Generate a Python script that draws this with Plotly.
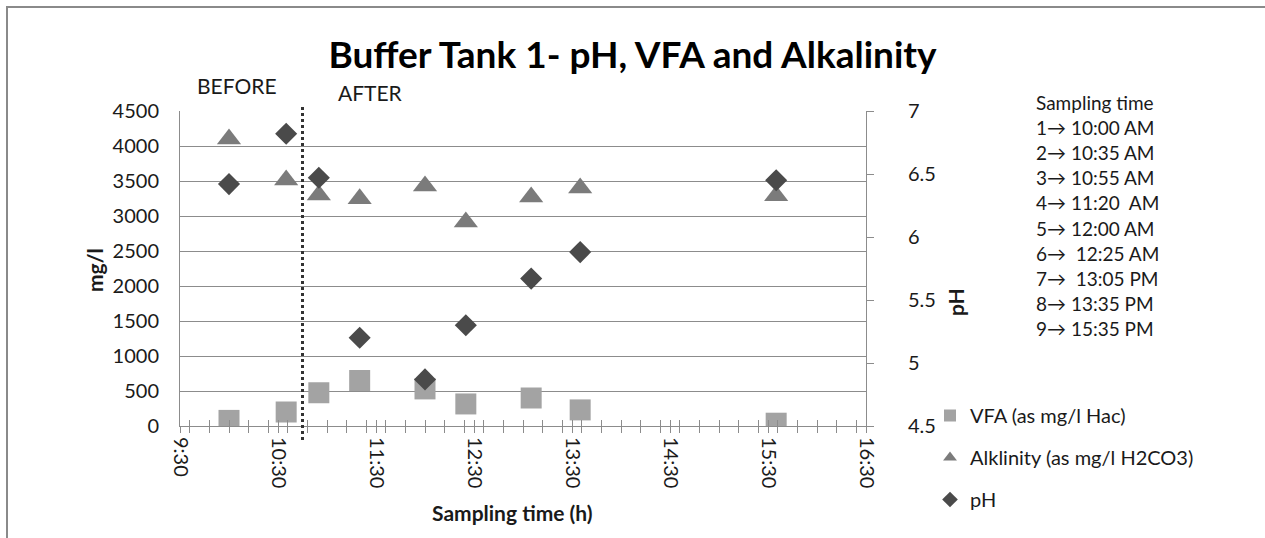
import plotly.graph_objects as go

# ---- data ----
sample_times = ["10:00", "10:35", "10:55", "11:20", "12:00", "12:25", "13:05", "13:35", "15:35"]
vfa = [80, 200, 475, 650, 530, 315, 400, 230, 40]
alkalinity = [4100, 3515, 3300, 3245, 3430, 2915, 3270, 3400, 3290]
ph = [6.42, 6.82, 6.47, 5.20, 4.87, 5.30, 5.67, 5.88, 6.45]

x_tick_labels = ["9:30", "10:30", "11:30", "12:30", "13:30", "14:30", "15:30", "16:30"]
sampling_lines = ["Sampling time", "1\u2192 10:00 AM", "2\u2192 10:35 AM", "3\u2192 10:55 AM",
                  "4\u2192 11:20\u00a0 AM", "5\u2192 12:00 AM", "6\u2192\u00a0 12:25 AM",
                  "7\u2192\u00a0 13:05 PM", "8\u2192 13:35 PM", "9\u2192 15:35 PM"]
divider_time = "10:45"

DAY = "2000-01-01 "
xs = [DAY + t for t in sample_times]
tickvals = [DAY + t for t in x_tick_labels]

FONT = "Lato, 'Open Sans', sans-serif"
GRID = "#8c8c8c"
TICK_FS = 20

fig = go.Figure()
fig.add_trace(go.Scatter(x=xs, y=vfa, mode="markers", name="VFA (as mg/l Hac)",
                         legendgroup="a",
                         marker=dict(symbol="square", size=21, color="#a3a3a3",
                                     line=dict(width=0))))
fig.add_trace(go.Scatter(x=xs, y=alkalinity, mode="markers", name="Alklinity (as mg/l H2CO3)",
                         legendgroup="b",
                         marker=dict(symbol="triangle-up", size=21, color="#7b7b7b",
                                     line=dict(width=0))))
fig.add_trace(go.Scatter(x=xs, y=ph, mode="markers", name="pH", yaxis="y2",
                         legendgroup="c",
                         marker=dict(symbol="diamond", size=17, color="#4a4a4a",
                                     line=dict(width=0))))
# carrier for inside half of the crossing tick marks
fig.add_trace(go.Scatter(x=[None], y=[None], xaxis="x3", showlegend=False, hoverinfo="skip"))

xrange = [DAY + "09:30", DAY + "16:30"]

fig.update_layout(
    width=1265, height=538,
    margin=dict(l=180, r=399, t=111, b=112, autoexpand=False),
    paper_bgcolor="white", plot_bgcolor="white",
    font=dict(family=FONT, size=20, color="#1a1a1a"),
    title=dict(text="<b>Buffer Tank 1- pH, VFA and Alkalinity</b>",
               font=dict(family=FONT, size=37, color="#000"),
               x=0.5, xref="container", xanchor="center",
               y=1 - 55 / 538, yref="container", yanchor="middle"),
    xaxis=dict(type="date", range=xrange, tickmode="array", tickvals=tickvals,
               ticktext=x_tick_labels, tickangle=90,
               ticks="outside", ticklen=6, tickcolor=GRID, tickwidth=1,
               minor=dict(dtick=12 * 60 * 1000, ticks="outside", ticklen=6,
                          tickcolor=GRID, showgrid=False),
               showline=True, linecolor=GRID, linewidth=1, showgrid=False,
               zeroline=False, tickfont=dict(size=TICK_FS), automargin=False),
    xaxis3=dict(type="date", range=xrange, overlaying="x", anchor="y",
                tickmode="array", tickvals=tickvals, ticks="inside", ticklen=6,
                tickcolor=GRID, showticklabels=False, showgrid=False,
                minor=dict(dtick=12 * 60 * 1000, ticks="inside", ticklen=6,
                           tickcolor=GRID, showgrid=False),
                showline=False, zeroline=False),
    yaxis=dict(range=[0, 4500], dtick=500, showgrid=True, gridcolor=GRID, gridwidth=1,
               showline=True, linecolor=GRID, ticks="", zeroline=False,
               ticklabelstandoff=16, tickfont=dict(size=TICK_FS), automargin=False),
    yaxis2=dict(range=[4.5, 7], dtick=0.5, overlaying="y", side="right",
                showgrid=False, showline=True, linecolor=GRID, ticks="outside",
                ticklen=7, tickcolor=GRID, zeroline=False, ticklabelstandoff=30,
                tickfont=dict(size=TICK_FS), automargin=False),
    legend=dict(x=(930 - 180) / 686, xanchor="left", y=(426 - 396) / 315, yanchor="top",
                traceorder="grouped", tracegroupgap=13, itemwidth=30,
                itemsizing="constant",
                font=dict(size=20), bgcolor="rgba(0,0,0,0)"),
    showlegend=True,
)

def px(xpx):
    return (xpx - 180) / 686

def py(ypx):
    return (426 - ypx) / 315

ann = [
    dict(text="BEFORE", x=px(237), y=py(85), font=dict(size=21)),
    dict(text="AFTER", x=px(370), y=py(92), font=dict(size=21)),
    dict(text="<b>mg/l</b>", x=px(94), y=py(270), textangle=-90, font=dict(size=21)),
    dict(text="<b>pH</b>", x=px(955), y=py(302), textangle=-90, font=dict(size=21)),
    dict(text="<b>Sampling time (h)</b>", x=px(512), y=py(512), font=dict(size=21)),
]
for a in ann:
    fig.add_annotation(xref="paper", yref="paper", showarrow=False,
                       xanchor="center", yanchor="middle", **a)

for i, line in enumerate(sampling_lines):
    fig.add_annotation(xref="paper", yref="paper", showarrow=False,
                       xanchor="left", yanchor="middle",
                       x=px(1034), y=py(102 + 25.2 * i), text=line,
                       font=dict(size=19))

# before/after divider
fig.add_shape(type="line", xref="x", yref="paper", x0=DAY + divider_time, x1=DAY + divider_time,
              y0=py(440), y1=py(107), line=dict(color="#333333", width=3, dash="dot"))
# chart frame
fig.add_shape(type="rect", xref="paper", yref="paper", x0=px(7), x1=px(1300),
              y0=py(600), y1=py(7), line=dict(color="#8a8a8a", width=2), layer="above")

fig.write_html("out.html")
